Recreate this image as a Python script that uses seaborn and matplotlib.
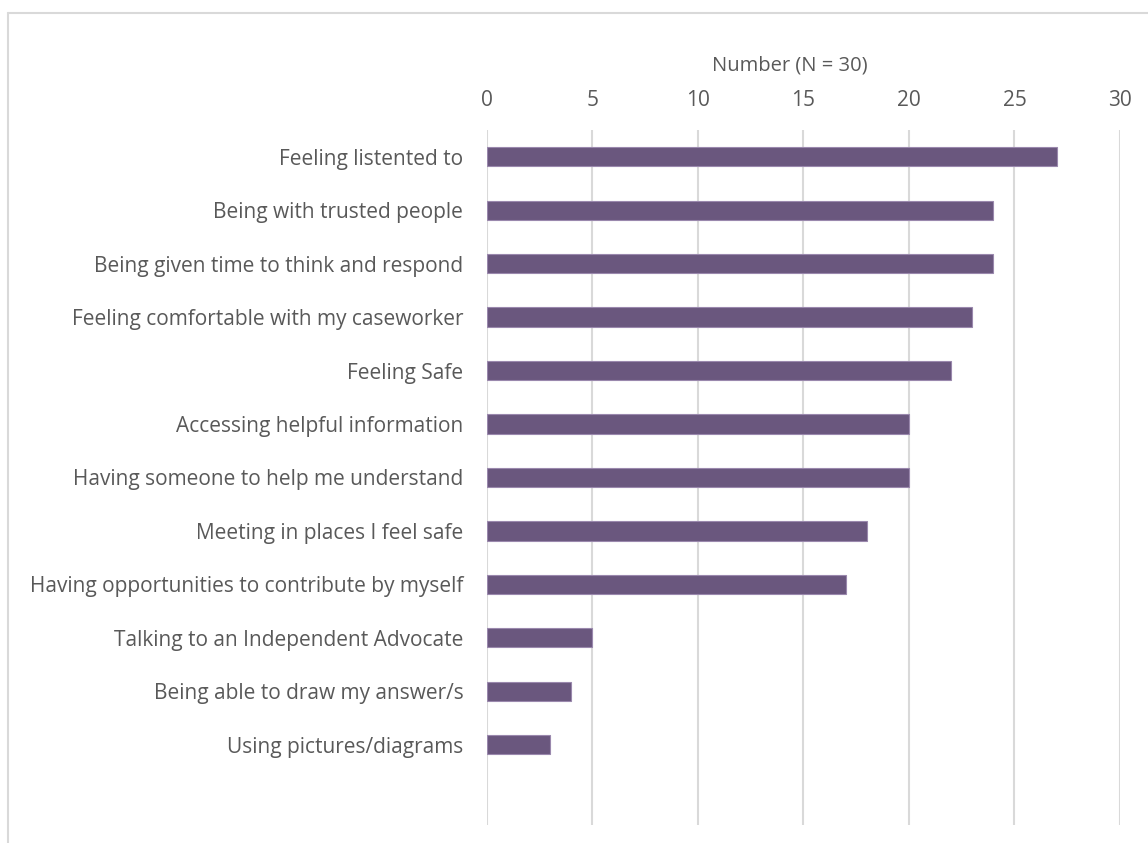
import matplotlib
matplotlib.use("Agg")
import matplotlib.pyplot as plt
import seaborn as sns
import pandas as pd
from matplotlib.lines import Line2D

categories = [
    "Feeling listented to",
    "Being with trusted people",
    "Being given time to think and respond",
    "Feeling comfortable with my caseworker",
    "Feeling Safe",
    "Accessing helpful information",
    "Having someone to help me understand",
    "Meeting in places I feel safe",
    "Having opportunities to contribute by myself",
    "Talking to an Independent Advocate",
    "Being able to draw my answer/s",
    "Using pictures/diagrams",
]
counts = [27, 24, 24, 23, 22, 20, 20, 18, 17, 5, 4, 3]
x_ticks = [0, 5, 10, 15, 20, 25, 30]
x_title = "Number (N = 30)"

sns.set_theme(style="white")
plt.rcParams["font.family"] = ["Open Sans", "DejaVu Sans"]

text_color = "#595959"
bar_color = "#6a5085"
grid_color = "#d9d9d9"

df = pd.DataFrame({"item": categories, "count": counts})

fig = plt.figure(figsize=(11.48, 8.43), dpi=100)
ax = fig.add_axes([0.4242, 0.0214, 0.5514, 0.8244])

sns.barplot(data=df, x="count", y="item", orient="h", color=bar_color,
            width=0.36, edgecolor="#9a88ad", linewidth=0.8, ax=ax, zorder=3)

ax.set_xlim(0, 30)
ax.set_ylim(12.5, -0.5)
ax.set_xticks(x_ticks)
ax.set_xticklabels([str(t) for t in x_ticks])
ax.xaxis.tick_top()
ax.xaxis.set_label_position("top")
ax.set_xlabel(x_title, fontsize=14.5, color=text_color)
ax.xaxis.set_label_coords(0.478, 1.0935)
ax.xaxis.label.set_verticalalignment("center")
ax.set_ylabel("")
ax.tick_params(axis="x", length=0, pad=14, labelsize=15, labelcolor=text_color)
ax.tick_params(axis="y", length=0, pad=17, labelsize=15, labelcolor=text_color)

ax.grid(axis="x", color=grid_color, linewidth=1.5, zorder=0)
ax.grid(axis="y", visible=False)
for s in ax.spines.values():
    s.set_visible(False)

# outer chart frame
frame_kw = dict(color="#d9d9d9", linewidth=1.5, transform=fig.transFigure)
fig.add_artist(Line2D([8 / 1148, 1.0], [1 - 13 / 843, 1 - 13 / 843], **frame_kw))
fig.add_artist(Line2D([8 / 1148, 8 / 1148], [0, 1 - 13 / 843], **frame_kw))

fig.savefig("out.png", dpi=100)
